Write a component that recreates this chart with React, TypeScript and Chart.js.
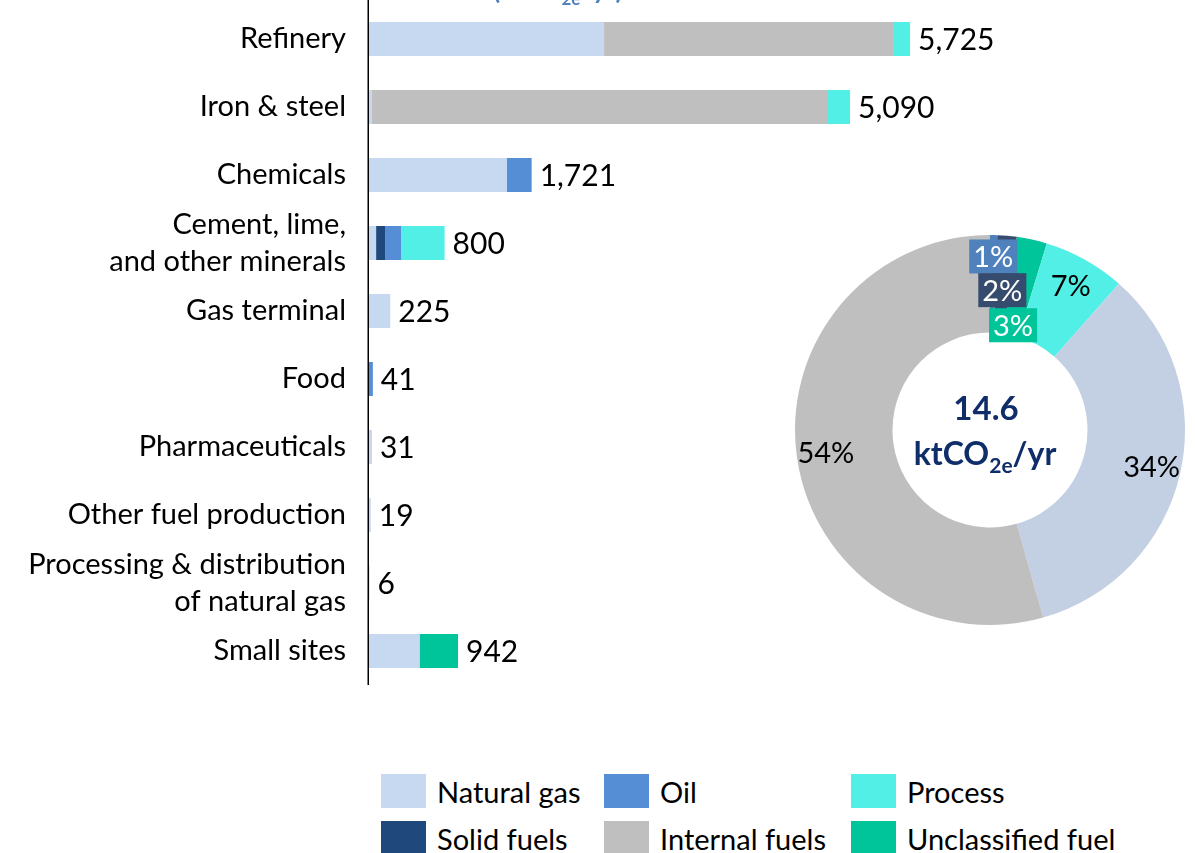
import React, { useEffect, useRef } from 'react';
import { Chart, registerables } from 'chart.js';

Chart.register(...registerables);

// ---------- data ----------
const categories: (string | string[])[] = [
  'Refinery',
  'Iron & steel',
  'Chemicals',
  ['Cement, lime,', 'and other minerals'],
  'Gas terminal',
  'Food',
  'Pharmaceuticals',
  'Other fuel production',
  ['Processing & distribution', 'of natural gas'],
  'Small sites',
];

const naturalGas = [2487, 32, 1460, 75, 225, 0, 31, 19, 6, 535];
const solidFuels = [0, 0, 0, 95, 0, 0, 0, 0, 0, 0];
const oil = [0, 0, 261, 170, 0, 41, 0, 0, 0, 0];
const internalFuels = [3058, 4825, 0, 0, 0, 0, 0, 0, 0, 0];
const processEm = [180, 233, 0, 460, 0, 0, 0, 0, 0, 0];
const unclassified = [0, 0, 0, 0, 0, 0, 0, 0, 0, 407];

const seriesNames = ['Natural gas', 'Solid fuels', 'Oil', 'Internal fuels', 'Process', 'Unclassified fuel'];
const seriesValues = [naturalGas, solidFuels, oil, internalFuels, processEm, unclassified];
const seriesColors = ['#c6d9f0', '#1f497d', '#558ed5', '#bfbfbf', '#52efe6', '#00c49a'];

const legendRows = [
  ['Natural gas', 'Oil', 'Process'],
  ['Solid fuels', 'Internal fuels', 'Unclassified fuel'],
];

const donutLabels = ['Oil', 'Solid fuels', 'Unclassified fuel', 'Process', 'Natural gas', 'Internal fuels'];
const donutShares = [0.6, 1.6, 2.5, 6.8, 34.1, 54.4];
const donutColors = ['#4f81bd', '#364c6e', '#00c49a', '#52efe6', '#c3cfe2', '#bfbfbf'];
const donutTotal = '14.6';
const unitMain = 'ktCO';
const unitSub = '2e';
const unitTail = '/yr';

const xMax = 8740;

const FONT = 'Lato, "Open Sans", sans-serif';

// ---------- plugins ----------
const totalsPlugin = {
  id: 'totals',
  afterDatasetsDraw(chart: any) {
    const { ctx, scales } = chart;
    ctx.save();
    ctx.font = `30px ${FONT}`;
    ctx.fillStyle = '#000';
    ctx.textAlign = 'left';
    ctx.textBaseline = 'middle';
    categories.forEach((_, i) => {
      const total = seriesValues.reduce((s, arr) => s + arr[i], 0);
      const x = scales.x.getPixelForValue(total) + 8;
      const y = scales.y.getPixelForValue(i);
      ctx.fillText(total.toLocaleString('en-US'), x, y + 1);
    });
    ctx.restore();
  },
};

const axisLinePlugin = {
  id: 'axisLine',
  afterDraw(chart: any) {
    const { ctx, chartArea } = chart;
    ctx.save();
    ctx.strokeStyle = '#000';
    ctx.lineWidth = 1.5;
    ctx.beginPath();
    ctx.moveTo(chartArea.left - 0.75, 0);
    ctx.lineTo(chartArea.left - 0.75, chartArea.bottom + 1);
    ctx.stroke();
    ctx.restore();
  },
};

const titlePlugin = {
  id: 'clippedTitle',
  afterDraw(chart: any) {
    const { ctx } = chart;
    ctx.save();
    ctx.fillStyle = '#4f81bd';
    ctx.textBaseline = 'alphabetic';
    ctx.textAlign = 'left';
    let x = 493;
    ctx.font = `bold 26px ${FONT}`;
    const a = '(' + unitMain;
    ctx.fillText(a, x, -1);
    x += ctx.measureText(a).width;
    ctx.font = `bold 17px ${FONT}`;
    ctx.fillText(unitSub, x, 5);
    x += ctx.measureText(unitSub).width;
    ctx.font = `bold 26px ${FONT}`;
    ctx.fillText(unitTail + ')', x, -1);
    ctx.restore();
  },
};

const donutLabelRadius = [0.89, 0.72, 0.55, 0.85, 0.85, 0.85];
const donutBoxed = [true, true, true, false, false, false];

const donutLabelPlugin = {
  id: 'donutLabels',
  afterDatasetsDraw(chart: any) {
    const { ctx } = chart;
    const meta = chart.getDatasetMeta(0);
    ctx.save();
    ctx.font = `29px ${FONT}`;
    ctx.textAlign = 'center';
    ctx.textBaseline = 'middle';
    meta.data.forEach((arc: any, i: number) => {
      const mid = (arc.startAngle + arc.endAngle) / 2;
      const r = arc.outerRadius * donutLabelRadius[i];
      const x = arc.x + r * Math.cos(mid);
      const y = arc.y + r * Math.sin(mid);
      const txt = Math.round(donutShares[i]) + '%';
      if (donutBoxed[i]) {
        const w = ctx.measureText(txt).width + 8;
        ctx.fillStyle = donutColors[i];
        ctx.fillRect(x - w / 2, y - 17, w, 34);
        ctx.fillStyle = '#fff';
      } else {
        ctx.fillStyle = '#000';
      }
      ctx.fillText(txt, x, y + 1);
    });
    ctx.restore();
  },
};

const donutCenterPlugin = {
  id: 'donutCenter',
  afterDraw(chart: any) {
    const { ctx } = chart;
    const arc = chart.getDatasetMeta(0).data[0];
    const cx = arc.x;
    const cy = arc.y;
    ctx.save();
    ctx.fillStyle = '#0f2d69';
    ctx.textBaseline = 'alphabetic';
    ctx.textAlign = 'left';
    ctx.font = `bold 33px ${FONT}`;
    const tw = ctx.measureText(donutTotal).width;
    ctx.fillText(donutTotal, cx - tw / 2 - 4, cy - 10);
    ctx.font = `bold 32px ${FONT}`;
    const w1 = ctx.measureText(unitMain).width;
    const w3 = ctx.measureText(unitTail).width;
    ctx.font = `bold 21px ${FONT}`;
    const w2 = ctx.measureText(unitSub).width;
    let x = cx - (w1 + w2 + w3) / 2 - 5;
    const base = cy + 35;
    ctx.font = `bold 32px ${FONT}`;
    ctx.fillText(unitMain, x, base);
    x += w1;
    ctx.font = `bold 21px ${FONT}`;
    ctx.fillText(unitSub, x, base + 8);
    x += w2;
    ctx.font = `bold 32px ${FONT}`;
    ctx.fillText(unitTail, x, base);
    ctx.restore();
  },
};

export default function App() {
  const barRef = useRef<HTMLCanvasElement>(null);
  const donutRef = useRef<HTMLCanvasElement>(null);

  useEffect(() => {
    const bar = new Chart(barRef.current as HTMLCanvasElement, {
      type: 'bar',
      data: {
        labels: categories as any,
        datasets: seriesNames.map((name, i) => ({
          label: name,
          data: seriesValues[i],
          backgroundColor: seriesColors[i],
          borderWidth: 0,
          barPercentage: 0.5,
          categoryPercentage: 1,
        })),
      },
      options: {
        indexAxis: 'y',
        animation: false,
        responsive: false,
        maintainAspectRatio: false,
        layout: { padding: { top: 5, right: 0, bottom: 0, left: 0 } },
        plugins: {
          legend: { display: false },
          tooltip: { enabled: false },
          title: { display: false },
        },
        scales: {
          x: { stacked: true, min: 0, max: xMax, display: false },
          y: {
            stacked: true,
            grid: { display: false, drawTicks: false },
            border: { display: false },
            ticks: {
              color: '#000',
              autoSkip: false,
              padding: 23,
              font: { family: FONT, size: 29, lineHeight: 1.28 },
            },
            afterFit: (s: any) => {
              s.width = 369;
              s.paddingTop = 0;
              s.paddingBottom = 0;
            },
          },
        },
      } as any,
      plugins: [totalsPlugin, axisLinePlugin, titlePlugin],
    });

    const donut = new Chart(donutRef.current as HTMLCanvasElement, {
      type: 'doughnut',
      data: {
        labels: donutLabels,
        datasets: [
          {
            data: donutShares,
            backgroundColor: donutColors,
            borderWidth: 0,
          },
        ],
      },
      options: {
        animation: false,
        responsive: false,
        maintainAspectRatio: false,
        cutout: '50%',
        rotation: 0,
        layout: { padding: 5 },
        plugins: {
          legend: { display: false },
          tooltip: { enabled: false },
        },
      } as any,
      plugins: [donutLabelPlugin, donutCenterPlugin],
    });

    return () => {
      bar.destroy();
      donut.destroy();
    };
  }, []);

  const colLeft = [381, 604, 851];
  const rowTop = [774, 821];

  return (
    <div
      style={{
        position: 'absolute',
        left: 0,
        top: 0,
        width: 1195,
        height: 853,
        overflow: 'hidden',
        background: '#fff',
        fontFamily: FONT,
      }}
    >
      <canvas ref={barRef} width={1195} height={685} style={{ position: 'absolute', left: 0, top: 0 }} />
      <canvas ref={donutRef} width={400} height={400} style={{ position: 'absolute', left: 790, top: 230 }} />
      {legendRows.map((row, ri) =>
        row.map((name, ci) => (
          <div
            key={name}
            style={{
              position: 'absolute',
              left: colLeft[ci],
              top: rowTop[ri],
              height: 34,
              display: 'flex',
              alignItems: 'center',
              whiteSpace: 'nowrap',
            }}
          >
            <div
              style={{
                width: 45,
                height: 34,
                background: seriesColors[seriesNames.indexOf(name)],
                marginRight: 11,
                flexShrink: 0,
              }}
            />
            <span style={{ fontSize: 29, color: '#000', lineHeight: 1 }}>{name}</span>
          </div>
        ))
      )}
    </div>
  );
}
